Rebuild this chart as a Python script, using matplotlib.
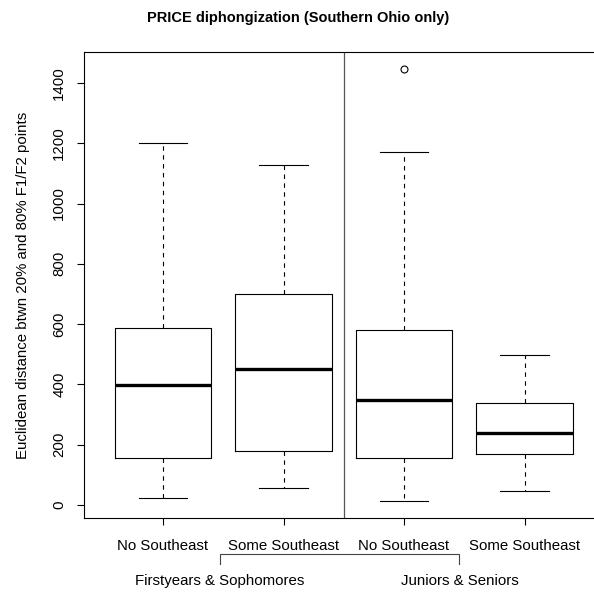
import matplotlib
matplotlib.use('Agg')
import matplotlib.pyplot as plt

plt.rcParams['font.family'] = ['Liberation Sans', 'DejaVu Sans']

# Summary stats (R-style boxplot)
labels = ['No Southeast', 'Some Southeast', 'No Southeast', 'Some Southeast']
whislo = [21, 55, 13, 44]
q1 = [154, 178, 154, 167]
med = [396, 452, 347, 237]
q3 = [588, 698, 581, 339]
whishi = [1200, 1128, 1171, 497]
fliers = [[], [], [1446], []]

groups = ['Firstyears & Sophomores', 'Juniors & Seniors']
yticks = [0, 200, 400, 600, 800, 1000, 1200, 1400]

stats = []
for i in range(len(labels)):
    stats.append({'med': med[i], 'q1': q1[i], 'q3': q3[i],
                  'whislo': whislo[i], 'whishi': whishi[i],
                  'fliers': fliers[i], 'label': labels[i]})

fs = 10.8

fig = plt.figure(figsize=(5.94, 5.94), dpi=100)
# plot region runs slightly past the right edge of the image, as in the reference
ax = fig.add_axes([83.5 / 594, 76 / 594, 520.6 / 594, 466 / 594])

ax.bxp(stats, positions=[1, 2, 3, 4], widths=0.8,
       boxprops=dict(color='black', linewidth=0.8),
       medianprops=dict(color='black', linewidth=2.4),
       whiskerprops=dict(color='black', linewidth=0.8, linestyle=(0, (4, 4))),
       capprops=dict(color='black', linewidth=0.8),
       flierprops=dict(marker='o', markersize=5, markerfacecolor='none',
                       markeredgecolor='black', markeredgewidth=0.8),
       capwidths=0.4)

ax.axvline(2.5, color='#555555', linewidth=0.9)

ax.set_xlim(0.34, 4.66)
ax.set_ylim(-44, 1503)
ax.set_yticks(yticks)
ax.set_yticklabels([str(v) for v in yticks], rotation=90, va='center')
ax.set_xticks([1, 2, 3, 4])
ax.set_xticklabels(labels)
ax.tick_params(axis='both', direction='out', length=5, width=0.8, labelsize=fs,
               color='black')
ax.tick_params(axis='x', pad=10)
ax.tick_params(axis='y', pad=7.5)
for s in ax.spines.values():
    s.set_linewidth(0.8)

ax.set_ylabel('Euclidean distance btwn 20% and 80% F1/F2 points', fontsize=fs,
              labelpad=16)

# group labels and bracket under the tick labels
trans = ax.get_xaxis_transform()
ax.text(1.47, -0.135, groups[0], transform=trans, ha='center', va='center',
        fontsize=fs, clip_on=False)
ax.text(3.46, -0.135, groups[1], transform=trans, ha='center', va='center',
        fontsize=fs, clip_on=False)
ax.plot([1.47, 1.47, 3.46, 3.46], [-0.098, -0.077, -0.077, -0.098],
        transform=trans, color='#444444', linewidth=0.8, clip_on=False)

fig.text(298 / 594, 1 - 18 / 594, 'PRICE diphongization (Southern Ohio only)',
         ha='center', va='center', fontsize=10.5, fontweight='bold')

fig.savefig('out.png', dpi=100)
